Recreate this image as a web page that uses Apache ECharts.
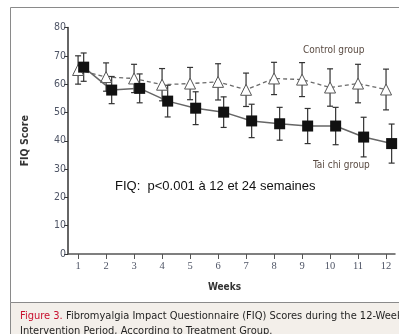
<!DOCTYPE html>
<html>
<head>
<meta charset="utf-8">
<script src="https://cdn.jsdelivr.net/npm/echarts@6/dist/echarts.min.js"></script>
<style>
  html, body { margin: 0; padding: 0; background: #fff; }
  #chart { width: 399px; height: 334px; }
</style>
</head>
<body>
<div id="chart"></div>
<script>
// weeks on the x axis
const weeks = [1, 2, 3, 4, 5, 6, 7, 8, 9, 10, 11, 12];

// FIQ score, mean and error
const controlMean = [65, 62.5, 62, 59.8, 60.2, 60.8, 58, 62, 61.6, 58.8, 60.2, 58.1];
const controlErr = [5, 5, 5, 5.7, 5.7, 6.4, 5.9, 5.7, 6, 6.6, 6.8, 7.2];
const taichiMean = [66, 57.9, 58.5, 54, 51.5, 50.1, 47, 46, 45.2, 45.2, 41.3, 39];
const taichiErr = [5, 4.8, 5.1, 5.6, 5.8, 5.4, 5.9, 5.8, 6.2, 6.6, 7, 6.9];

// tai chi points are drawn slightly to the right of each week
const shift = 0.2;

const chart = echarts.init(document.getElementById("chart"), null, { renderer: "canvas" });

const ctrlPts = weeks.map((w, i) => [w, controlMean[i]]);
const taiPts = weeks.map((w, i) => [w + shift, taichiMean[i]]);
const ctrlBars = weeks.map((w, i) => [w, controlMean[i] - controlErr[i], controlMean[i] + controlErr[i]]);
const taiBars = weeks.map((w, i) => [w + shift, taichiMean[i] - taichiErr[i], taichiMean[i] + taichiErr[i]]);

function errorBar(color) {
  return function (params, api) {
    const lo = api.coord([api.value(0), api.value(1)]);
    const hi = api.coord([api.value(0), api.value(2)]);
    const cap = 3;
    const st = { stroke: color, lineWidth: 1.2 };
    return {
      type: "group",
      children: [
        { type: "line", shape: { x1: lo[0], y1: lo[1], x2: hi[0], y2: hi[1] }, style: st },
        { type: "line", shape: { x1: lo[0] - cap, y1: lo[1], x2: lo[0] + cap, y2: lo[1] }, style: st },
        { type: "line", shape: { x1: hi[0] - cap, y1: hi[1], x2: hi[0] + cap, y2: hi[1] }, style: st }
      ]
    };
  };
}

const tickColor = "#4f5566";
const narrow = "'Liberation Sans Narrow', 'DejaVu Sans Condensed', 'Open Sans', sans-serif";

chart.setOption({
  animation: false,
  grid: { left: 68, right: 4, top: 27.5, bottom: 80 },
  xAxis: {
    type: "value",
    min: 0.64,
    max: 12.32,
    axisLine: { lineStyle: { color: "#555", width: 1.5 } },
    axisTick: { customValues: weeks, length: 5, lineStyle: { color: "#555" } },
    axisLabel: { customValues: weeks, color: tickColor, fontSize: 10.5, fontFamily: "'Liberation Serif', serif", margin: 7 },
    splitLine: { show: false },
    name: "Weeks",
    nameLocation: "middle",
    nameGap: 28,
    nameTextStyle: { fontFamily: narrow, fontWeight: "bold", fontSize: 10, color: "#333", padding: [0, 0, 0, -14] }
  },
  yAxis: {
    type: "value",
    min: 0,
    max: 80,
    interval: 10,
    axisLine: { show: true, lineStyle: { color: "#333", width: 1.5 } },
    axisTick: { show: true, length: 4, lineStyle: { color: "#333" } },
    axisLabel: { color: tickColor, fontSize: 10.5, fontFamily: narrow, margin: 2 },
    splitLine: { show: false },
    name: "FIQ Score",
    nameLocation: "middle",
    nameGap: 37,
    nameRotate: 90,
    nameTextStyle: { fontFamily: narrow, fontWeight: "bold", fontSize: 10.5, color: "#333" }
  },
  series: [
    {
      type: "custom",
      renderItem: errorBar("#333"),
      data: ctrlBars,
      encode: { x: 0, y: [1, 2] },
      z: 1
    },
    {
      type: "custom",
      renderItem: errorBar("#333"),
      data: taiBars,
      encode: { x: 0, y: [1, 2] },
      z: 1
    },
    {
      name: "Control group",
      type: "line",
      data: ctrlPts,
      symbol: "triangle",
      symbolSize: 11,
      lineStyle: { color: "#6b6b6b", width: 1.3, type: [4, 3] },
      itemStyle: { color: "#fff", borderColor: "#555", borderWidth: 1 },
      z: 3
    },
    {
      name: "Tai chi group",
      type: "line",
      data: taiPts,
      symbol: "rect",
      symbolSize: 11,
      lineStyle: { color: "#666", width: 1.5 },
      itemStyle: { color: "#111", borderColor: "#111", borderWidth: 0 },
      z: 4
    }
  ],
  graphic: [
    // outer figure frame
    { type: "rect", shape: { x: 10.5, y: 7.5, width: 400, height: 295 }, style: { fill: null, stroke: "#8a8a8a", lineWidth: 1 }, z: -1 },
    // caption band
    { type: "rect", shape: { x: 10.5, y: 302.5, width: 400, height: 40 }, style: { fill: "#f3efea", stroke: "#8a8a8a", lineWidth: 1 }, z: -1 },
    { type: "text", left: 303, top: 45, style: { text: "Control group", fill: "#5a4b42", font: "10px " + narrow } },
    { type: "text", left: 313, top: 160, style: { text: "Tai chi group", fill: "#5a4b42", font: "10px " + narrow } },
    { type: "text", left: 115, top: 180, style: { text: "FIQ:  p<0.001 \u00e0 12 et 24 semaines", fill: "#111", font: "13px 'Liberation Sans', Arial, sans-serif" } },
    {
      type: "text", left: 20, top: 309,
      style: {
        rich: {
          r: { fill: "#c8102e", font: "11px " + narrow },
          t: { fill: "#1f1f1f", font: "11px " + narrow }
        },
        text: "{r|Figure 3.} {t|Fibromyalgia Impact Questionnaire (FIQ) Scores during the 12-Week}\n{t|Intervention Period, According to Treatment Group.}",
        lineHeight: 15
      }
    }
  ]
});
</script>
</body>
</html>
